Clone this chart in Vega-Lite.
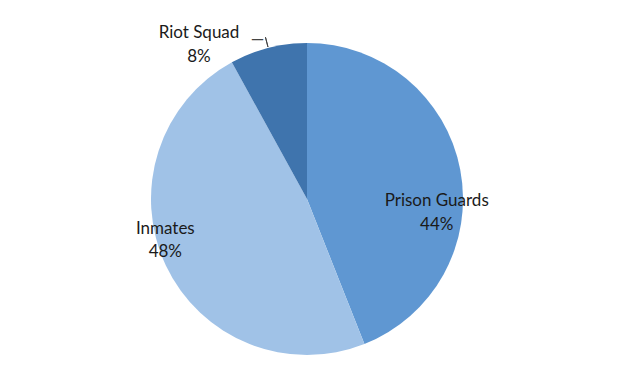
{
  "$schema": "https://vega.github.io/schema/vega-lite/v6.json",
  "autosize": "none",
  "width": 614,
  "height": 398,
  "padding": 0,
  "background": "white",
  "view": {"stroke": null},
  "data": {"values": [
    {"category": "Prison Guards", "value": 44, "rank": 1},
    {"category": "Inmates", "value": 48, "rank": 2},
    {"category": "Riot Squad", "value": 8, "rank": 3}
  ]},
  "transform": [
    {"stack": "value", "groupby": [], "sort": [{"field": "rank", "order": "ascending"}], "as": ["s0", "s1"]},
    {"calculate": "(datum.s0 + datum.s1) / 2", "as": "mid"},
    {"calculate": "datum.category + '\\n' + datum.value + '%'", "as": "label"}
  ],
  "layer": [
    {
      "mark": {"type": "arc", "radius": 156, "stroke": null},
      "encoding": {
        "theta": {"field": "s0", "type": "quantitative", "scale": {"domain": [0, 100]}},
        "theta2": {"field": "s1"},
        "color": {"field": "category", "type": "nominal", "legend": null,
          "scale": {"domain": ["Prison Guards", "Inmates", "Riot Squad"], "range": ["#5f97d2", "#a0c2e7", "#3f74ad"]}}
      }
    },
    {
      "transform": [{"filter": "datum.category == 'Riot Squad'"}],
      "mark": {"type": "arc", "radius": 167, "radius2": 157, "stroke": "#444444", "strokeWidth": 1, "fill": null},
      "encoding": {"theta": {"field": "mid", "type": "quantitative"}, "theta2": {"field": "mid"}}
    },
    {
      "transform": [{"filter": "datum.category == 'Riot Squad'"}],
      "mark": {"type": "text", "text": "—", "radius": 167, "dx": -8, "dy": 3, "font": "Lato", "fontSize": 17, "color": "#444444", "align": "center", "baseline": "middle"},
      "encoding": {"theta": {"field": "mid", "type": "quantitative"}}
    },
    {
      "transform": [{"filter": "datum.category == 'Prison Guards'"}],
      "mark": {"type": "text", "radius": 130, "dx": 2, "dy": 26, "lineBreak": "\n", "lineHeight": 24, "font": "Lato", "fontSize": 17, "color": "#1a1a1a", "align": "center", "baseline": "middle"},
      "encoding": {"theta": {"field": "mid", "type": "quantitative"}, "text": {"field": "label"}}
    },
    {
      "transform": [{"filter": "datum.category == 'Inmates'"}],
      "mark": {"type": "text", "radius": 140, "dx": -15, "dy": -30, "lineBreak": "\n", "lineHeight": 23, "font": "Lato", "fontSize": 17, "color": "#1a1a1a", "align": "center", "baseline": "middle"},
      "encoding": {"theta": {"field": "mid", "type": "quantitative"}, "text": {"field": "label"}}
    },
    {
      "transform": [{"filter": "datum.category == 'Riot Squad'"}],
      "mark": {"type": "text", "radius": 185, "dx": -62, "dy": 13, "lineBreak": "\n", "lineHeight": 24, "font": "Lato", "fontSize": 17, "color": "#1a1a1a", "align": "center", "baseline": "middle"},
      "encoding": {"theta": {"field": "mid", "type": "quantitative"}, "text": {"field": "label"}}
    }
  ]
}
